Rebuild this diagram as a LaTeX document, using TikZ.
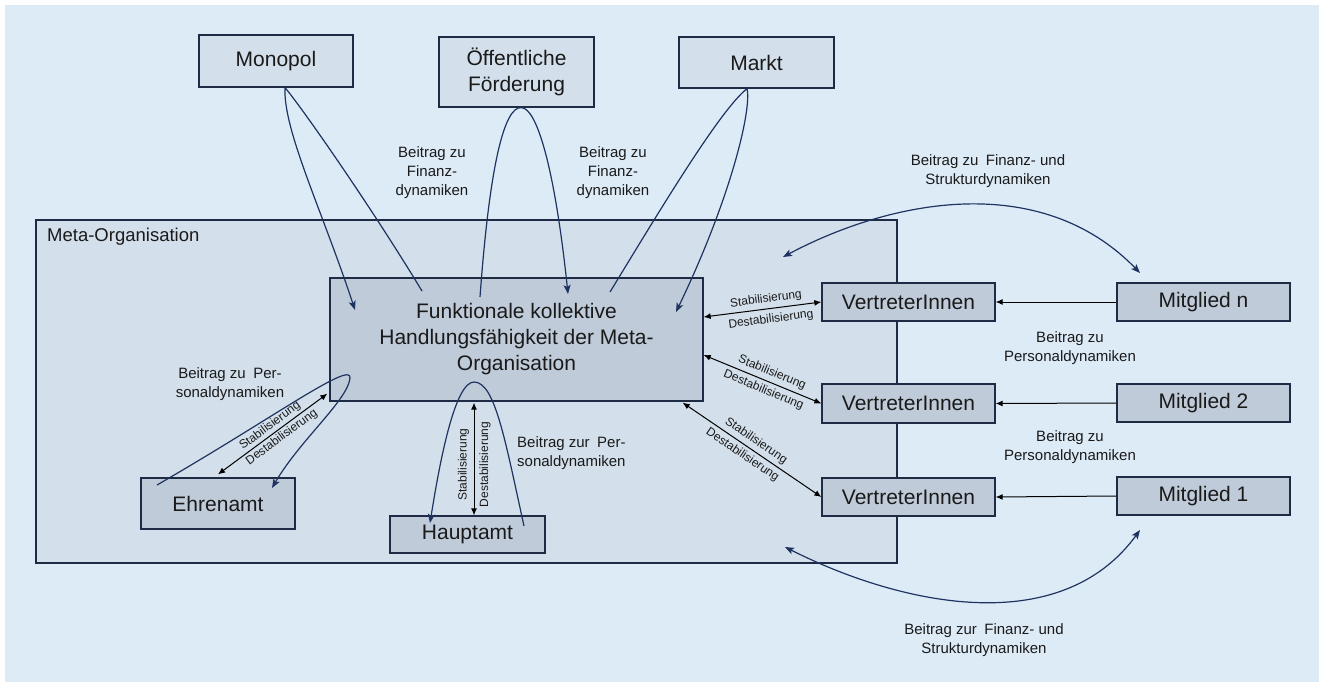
\documentclass[tikz,border=0pt]{standalone}
\usepackage{fontspec}
\setmainfont{Liberation Sans}
\usetikzlibrary{arrows.meta,calc}
\definecolor{bgc}{HTML}{DDEBF7}
\definecolor{metac}{HTML}{D3DFEA}
\definecolor{lightc}{HTML}{D3DFEA}
\definecolor{darkc}{HTML}{BFCBD9}
\definecolor{bordc}{HTML}{1F2A44}
\definecolor{navc}{HTML}{1F3360}
\definecolor{txt}{HTML}{1A1A1A}
\tikzset{
  box/.style={draw=bordc, line width=1.3pt, inner sep=0pt, align=center, text=txt, font=\fontsize{21}{26}\selectfont},
  lightbox/.style={box, fill=lightc},
  darkbox/.style={box, fill=darkc},
  lbl/.style={font=\fontsize{15}{19}\selectfont, align=center, text=txt, inner sep=0pt},
  small/.style={font=\fontsize{12}{14}\selectfont, text=txt, inner sep=1.5pt},
  navyarr/.style={draw=navc, line width=1.2pt, -{Stealth[length=9pt,width=7pt,inset=2pt]}},
  navydbl/.style={draw=navc, line width=1.2pt, {Stealth[length=9pt,width=7pt,inset=2pt]}-{Stealth[length=9pt,width=7pt,inset=2pt]}},
  blkarr/.style={draw=black, line width=1pt, -{Latex[length=7pt,width=6pt]}},
  blkdbl/.style={draw=black, line width=1pt, {Latex[length=7pt,width=6pt]}-{Latex[length=7pt,width=6pt]}}
}
\begin{document}
\begin{tikzpicture}[x=1pt,y=-1pt]
\useasboundingbox (0,0) rectangle (1319,682);
\fill[white] (0,0) rectangle (1319,682);
\fill[bgc] (5,5) rectangle (1319,682);

% Meta-Organisation frame
\node[draw=bordc, line width=1.3pt, fill=metac, minimum width=861pt, minimum height=343pt, inner sep=0pt] (meta) at (466.5,391.5) {};
\node[font=\fontsize{18.5}{22}\selectfont, text=txt, anchor=west, inner sep=0pt] (metalbl) at (47,237) {Meta-Organisation};

% top boxes
\node[lightbox, minimum width=154pt, minimum height=52pt] (monopol) at (276,61) {Monopol};
\node[lightbox, minimum width=155pt, minimum height=70pt] (foerd) at (516.5,72) {Öffentliche\\Förderung};
\node[lightbox, minimum width=155pt, minimum height=51pt] (markt) at (756.5,62.5) {Markt};

% inner boxes
\node[darkbox, minimum width=373pt, minimum height=123pt] (main) at (516.5,339.5) {Funktionale kollektive\\Handlungsfähigkeit der Meta-\\Organisation};
\node[darkbox, minimum width=154pt, minimum height=51pt] (ehren) at (218,503.5) {Ehrenamt};
\node[darkbox, minimum width=155pt, minimum height=37pt] (haupt) at (467.5,534.5) {Hauptamt};
\node[darkbox, minimum width=173pt, minimum height=38pt] (vn) at (908.5,302) {VertreterInnen};
\node[darkbox, minimum width=173pt, minimum height=39pt] (v2) at (908.5,403.5) {VertreterInnen};
\node[darkbox, minimum width=173pt, minimum height=38pt] (v1) at (908.5,497) {VertreterInnen};
\node[darkbox, minimum width=173pt, minimum height=38pt] (mn) at (1203.5,302) {Mitglied n};
\node[darkbox, minimum width=173pt, minimum height=38pt] (m2) at (1203.5,403) {Mitglied 2};
\node[darkbox, minimum width=173pt, minimum height=38pt] (m1) at (1203.5,496) {Mitglied 1};

% labels
\node[lbl] (fin1) at (432,173) {Beitrag zu\\Finanz-\\dynamiken};
\node[lbl] (fin2) at (613,173) {Beitrag zu\\Finanz-\\dynamiken};
\node[lbl] (fstop) at (988,171.5) {Beitrag zu\enspace Finanz- und\\Strukturdynamiken};
\node[lbl] (fsbot) at (984,640) {Beitrag zur\enspace Finanz- und\\Strukturdynamiken};
\node[lbl] (pers1) at (1070,348.5) {Beitrag zu\\Personaldynamiken};
\node[lbl] (pers2) at (1070,447) {Beitrag zu\\Personaldynamiken};
\node[lbl] (persE) at (230,384) {Beitrag zu\enspace Per-\\sonaldynamiken};
\node[lbl, align=left, anchor=west] (persH) at (517,453) {Beitrag zur\enspace Per-\\sonaldynamiken};

% coordinates for curve ends
\coordinate (monS) at (422,291);
\coordinate (monA) at ([xshift=9pt]monopol.south);
\coordinate (monE) at (355,310);
\coordinate (foeS) at (480,297);
\coordinate (foeA) at ([xshift=4.5pt]foerd.south);
\coordinate (foeE) at (568,294);
\coordinate (marS) at (610,292);
\coordinate (marA) at ([xshift=-9.5pt]markt.south);
\coordinate (marE) at (676,312);
\coordinate (ehS) at (157,485);
\coordinate (ehT) at (350,378);
\coordinate (ehE) at (272,488);
\coordinate (haS) at (524,526);
\coordinate (haA) at (474,382);
\coordinate (haE) at (430,523);
\coordinate (topL) at (783,257);
\coordinate (topR) at (1140,273);
\coordinate (botL) at (785,547);
\coordinate (botR) at (1140,530);

% financing loops
\draw[navyarr] (monS) .. controls (370,205) and (300,105) .. (monA) .. controls (283,130) and (322,210) .. (monE);
\draw[navyarr] (foeS) .. controls (490,160) and (505,107) .. (foeA) .. controls (537,107) and (555,170) .. (foeE);
\draw[navyarr] (marS) .. controls (660,210) and (720,110) .. (marA) .. controls (752,110) and (730,200) .. (marE);

% personnel loops
\draw[navyarr] (ehS) .. controls (270,420) and (352,360) .. (ehT) .. controls (348,400) and (300,440) .. (ehE);
\draw[navyarr] (haS) .. controls (505,440) and (495,382) .. (haA) .. controls (455,382) and (440,460) .. (haE);

% big member curves
\draw[navydbl] (topL) .. controls (890,200) and (1040,170) .. (topR);
\draw[navydbl] (botL) .. controls (900,605) and (1060,640) .. (botR);

% stabilisation arrows
\draw[blkdbl] ([yshift=3pt]ehren.north) -- ([shift={(-2pt,8pt)}]main.south west)
  node[small, pos=0.52, sloped, above, inner sep=2pt] {Stabilisierung}
  node[small, pos=0.54, sloped, below, inner sep=2pt] {Destabilisierung};
\draw[blkdbl] ([xshift=6.5pt]haupt.north) -- ([xshift=-42.5pt,yshift=-1pt]main.south)
  node[small, pos=0.45, sloped, above, inner sep=4.5pt] {Stabilisierung}
  node[small, pos=0.45, sloped, below, inner sep=5pt] {Destabilisierung};
\draw[blkdbl] ([yshift=22.5pt]main.east) -- (vn.west)
  node[small, pos=0.54, sloped, above, inner sep=3.5pt] {Stabilisierung}
  node[small, pos=0.56, sloped, below, inner sep=5pt] {Destabilisierung};
\draw[blkdbl] ([yshift=-15.5pt]main.east) -- (v2.west)
  node[small, pos=0.55, sloped, above, inner sep=3.5pt] {Stabilisierung}
  node[small, pos=0.54, sloped, below, inner sep=3.5pt] {Destabilisierung};
\draw[blkdbl] ([xshift=-21pt,yshift=-1pt]main.south east) -- (v1.west)
  node[small, pos=0.49, sloped, above, inner sep=3.5pt] {Stabilisierung}
  node[small, pos=0.47, sloped, below, inner sep=3.5pt] {Destabilisierung};

% member to representative
\draw[blkarr] (mn.west) -- (vn.east);
\draw[blkarr] (m2.west) -- (v2.east);
\draw[blkarr] (m1.west) -- (v1.east);
\end{tikzpicture}
\end{document}
